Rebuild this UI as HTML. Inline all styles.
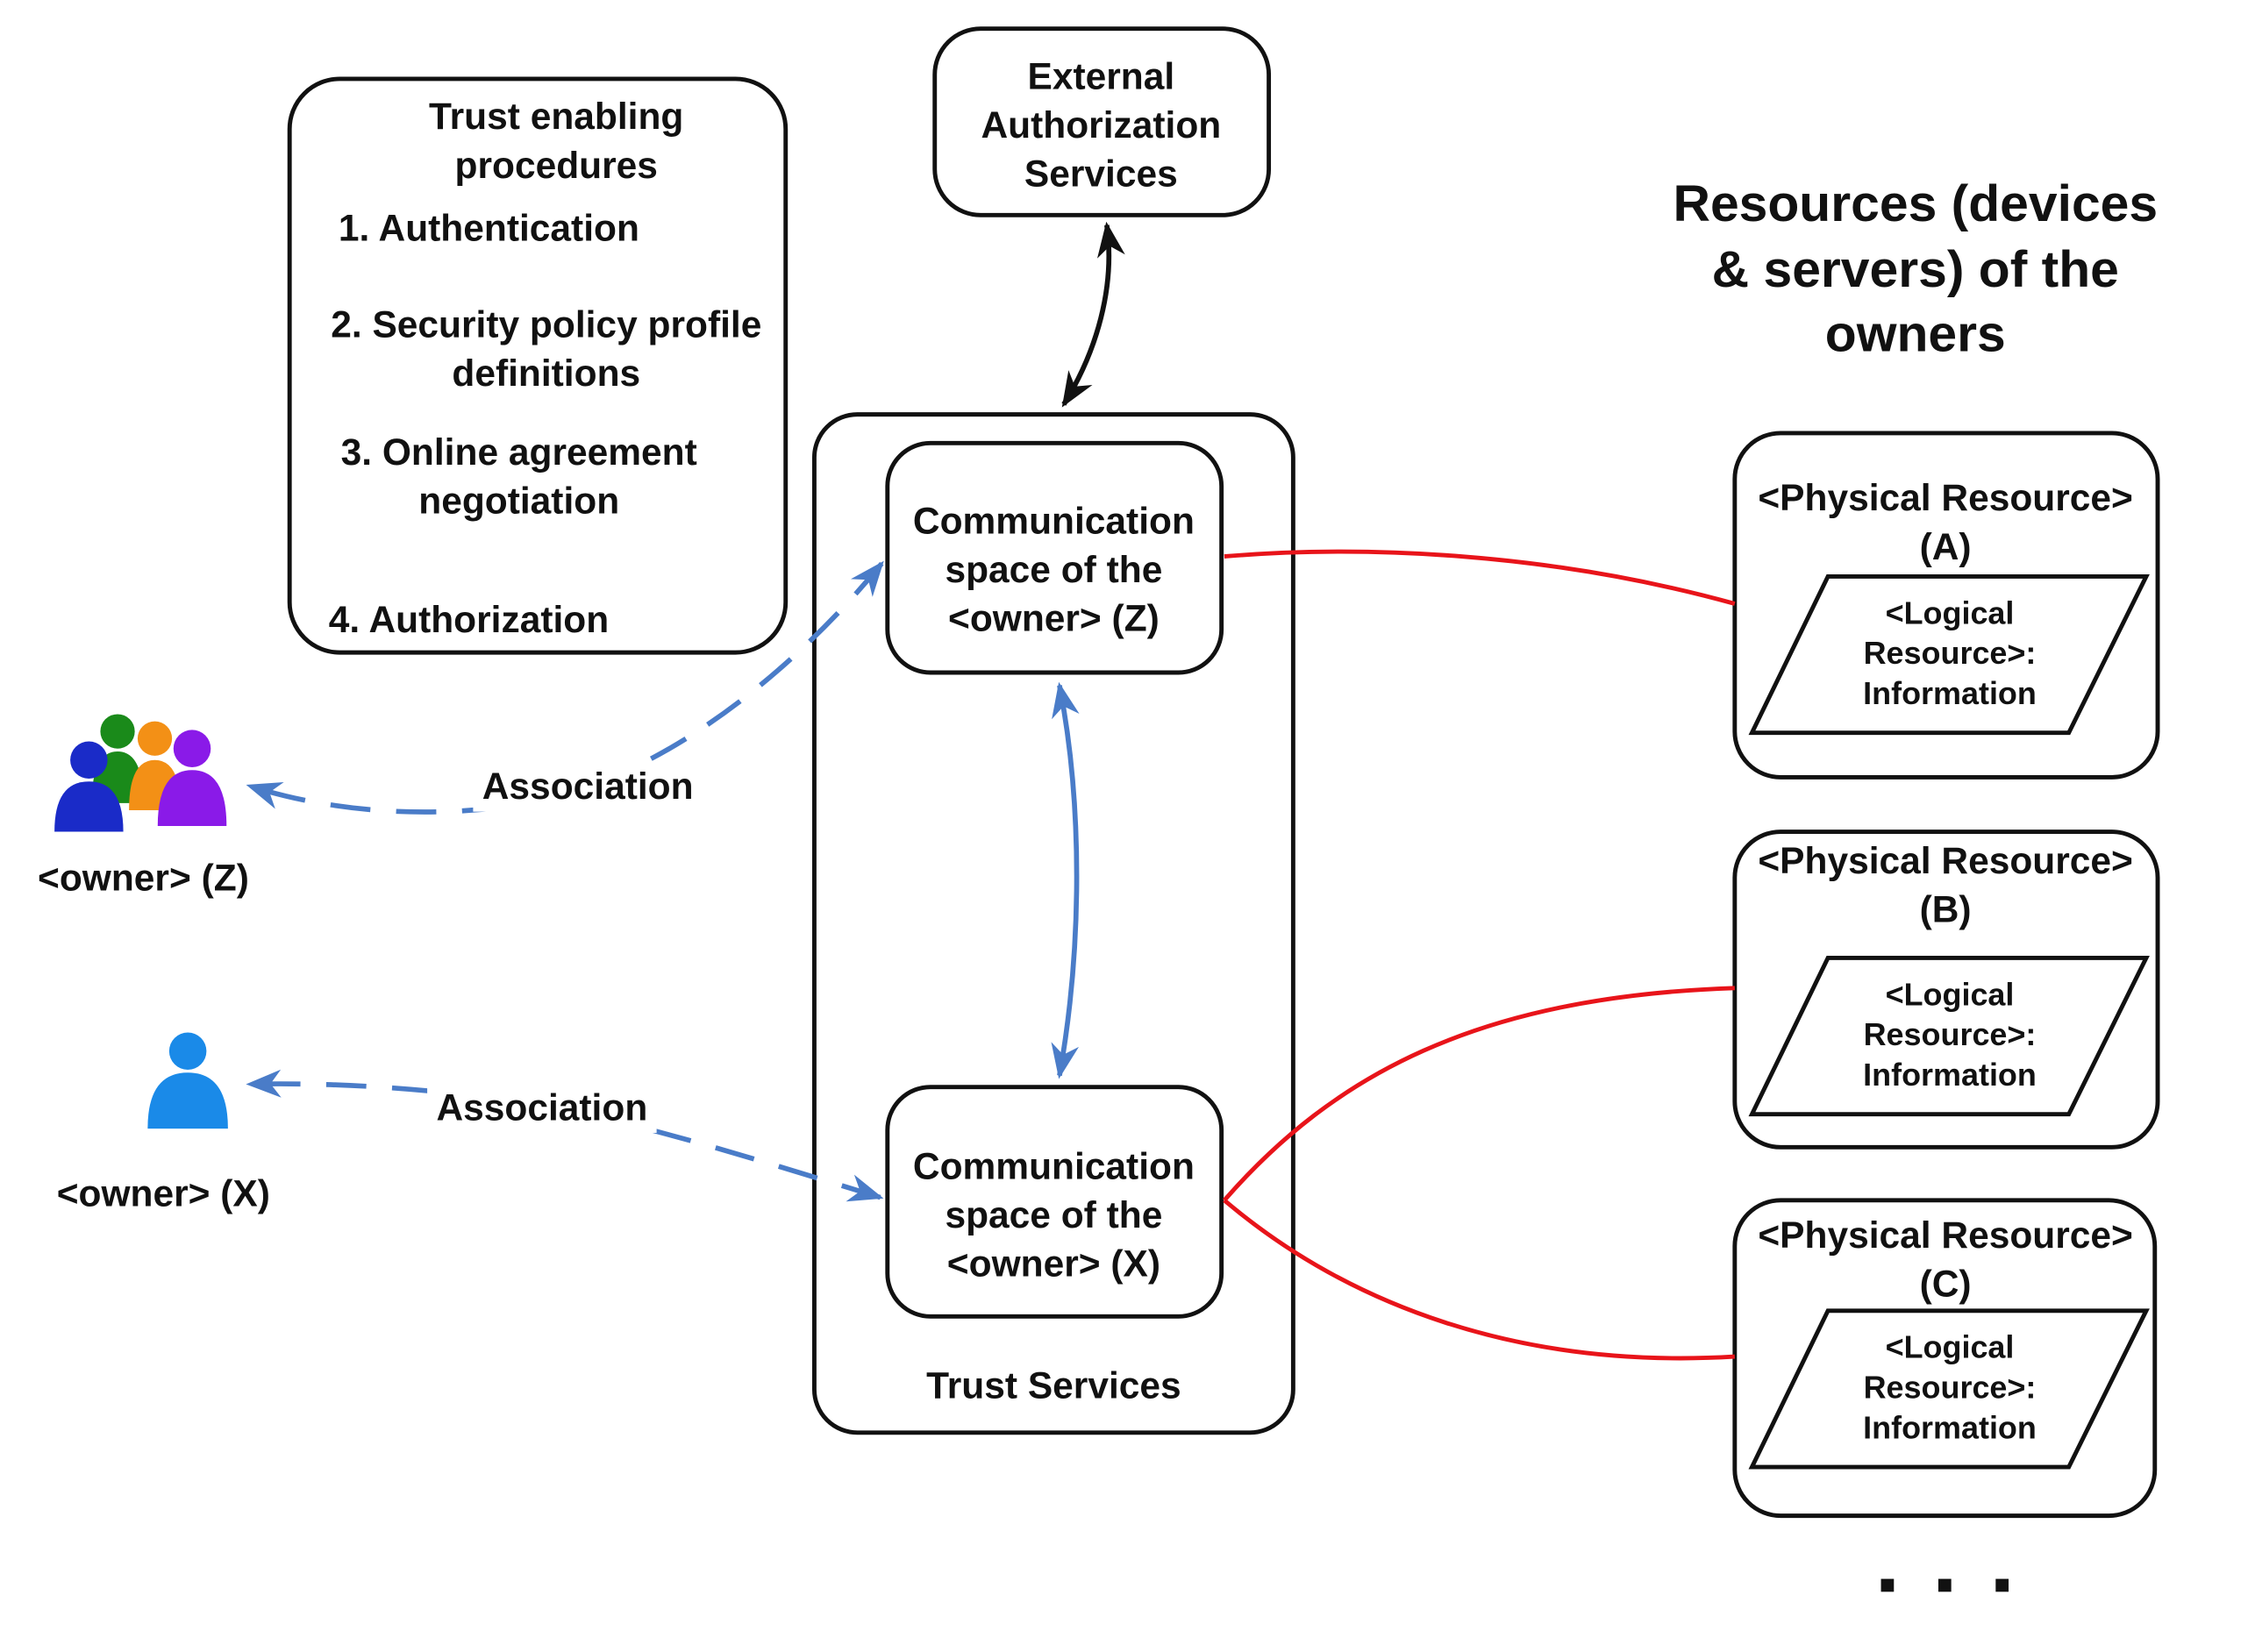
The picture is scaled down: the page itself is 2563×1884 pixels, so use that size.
<!DOCTYPE html>
<html><head><meta charset="utf-8"><style>
html,body{margin:0;padding:0;background:#fff;}
svg{display:block;}
text{font-family:"Liberation Sans",sans-serif;font-weight:bold;fill:#111;}
</style></head><body>
<svg width="2563" height="1884" viewBox="0 0 1568 1152" preserveAspectRatio="none" xmlns="http://www.w3.org/2000/svg">
<defs>
<marker id="ab" viewBox="0 0 10 10" refX="9" refY="5" markerWidth="7" markerHeight="7" orient="auto-start-reverse"><path d="M0,1 L10,5 L0,9 L3,5z" fill="#4a7cc8"/></marker>
<marker id="ak" viewBox="0 0 10 10" refX="9" refY="5" markerWidth="7" markerHeight="7" orient="auto-start-reverse"><path d="M0,1 L10,5 L0,9 L3,5z" fill="#111"/></marker>
</defs>
<g fill="none" stroke="#111" stroke-width="3">
<rect x="202" y="55" width="346" height="400" rx="35"/>
<rect x="652" y="20" width="233" height="130" rx="32"/>
<rect x="568" y="289" width="334" height="710" rx="30"/>
<rect x="619" y="309" width="233" height="160" rx="30"/>
<rect x="619" y="758" width="233" height="160" rx="30"/>
<rect x="1210" y="302" width="295" height="240" rx="32"/>
<rect x="1210" y="580" width="295" height="220" rx="32"/>
<rect x="1210" y="837" width="293" height="220" rx="32"/>
<polygon points="1275,402 1497,402 1443,511 1222,511"/>
<polygon points="1275,668 1497,668 1443,777 1222,777"/>
<polygon points="1275,914 1497,914 1443,1023 1222,1023"/>
</g>
<path d="M772,157 C778,200 765,245 742,282" fill="none" stroke="#111" stroke-width="3.5" marker-start="url(#ak)" marker-end="url(#ak)"/>
<path d="M739,478 C755,560 755,660 739,750" fill="none" stroke="#4a7cc8" stroke-width="3.5" marker-start="url(#ab)" marker-end="url(#ab)"/>
<path d="M615,393 C560,460 470,540 370,560 C300,572 230,566 174,548" fill="none" stroke="#4a7cc8" stroke-width="3.5" stroke-dasharray="28,18" marker-start="url(#ab)" marker-end="url(#ab)"/>
<path d="M614,835 C500,800 420,775 340,765 C280,758 230,755 174,756" fill="none" stroke="#4a7cc8" stroke-width="3.5" stroke-dasharray="28,18" marker-start="url(#ab)" marker-end="url(#ab)"/>
<g fill="none" stroke="#e8141a" stroke-width="3">
<path d="M854,388 C950,380 1080,385 1210,421"/>
<path d="M854,837 C930,750 1030,695 1210,689"/>
<path d="M854,837 C940,910 1060,955 1210,946"/>
</g>
<rect x="330" y="532" width="160" height="34" fill="#fff"/>
<rect x="298" y="756" width="160" height="34" fill="#fff"/>
<g>
<circle cx="82" cy="510" r="12" fill="#1a8a1a"/><path d="M64,560 Q64,524 82,524 Q100,524 100,560z" fill="#1a8a1a"/>
<circle cx="108" cy="515" r="12" fill="#f39016"/><path d="M90,565 Q90,530 108,530 Q126,530 126,565z" fill="#f39016"/>
<circle cx="62" cy="530" r="13" fill="#1a2bc8"/><path d="M38,580 Q38,545 62,545 Q86,545 86,580z" fill="#1a2bc8"/>
<circle cx="134" cy="522" r="13" fill="#8a1ae8"/><path d="M110,576 Q110,537 134,537 Q158,537 158,576z" fill="#8a1ae8"/>
<circle cx="131" cy="733" r="13" fill="#1a8ae8"/><path d="M103,787 Q103,748 131,748 Q159,748 159,787z" fill="#1a8ae8"/>
</g>
<g font-size="26" text-anchor="middle">
<text x="388" y="90">Trust enabling</text>
<text x="388" y="124">procedures</text>
<text x="341" y="168">1. Authentication</text>
<text x="381" y="235">2. Security policy profile</text>
<text x="381" y="269">definitions</text>
<text x="362" y="324">3. Online agreement</text>
<text x="362" y="358">negotiation</text>
<text x="327" y="441">4. Authorization</text>
<text x="768" y="62">External</text>
<text x="768" y="96">Authorization</text>
<text x="768" y="130">Services</text>
<text x="735" y="372">Communication</text>
<text x="735" y="406">space of the</text>
<text x="735" y="440">&lt;owner&gt; (Z)</text>
<text x="735" y="822">Communication</text>
<text x="735" y="856">space of the</text>
<text x="735" y="890">&lt;owner&gt; (X)</text>
<text x="735" y="975">Trust Services</text>
<text x="410" y="557">Association</text>
<text x="378" y="781">Association</text>
<text x="100" y="621">&lt;owner&gt; (Z)</text>
<text x="114" y="841">&lt;owner&gt; (X)</text>
<text x="1357" y="356">&lt;Physical Resource&gt;</text>
<text x="1357" y="390">(A)</text>
<text x="1357" y="609">&lt;Physical Resource&gt;</text>
<text x="1357" y="643">(B)</text>
<text x="1357" y="870">&lt;Physical Resource&gt;</text>
<text x="1357" y="904">(C)</text>
</g>
<g font-size="22" text-anchor="middle">
<text x="1360" y="435">&lt;Logical</text><text x="1360" y="463">Resource&gt;:</text><text x="1360" y="491">Information</text>
<text x="1360" y="701">&lt;Logical</text><text x="1360" y="729">Resource&gt;:</text><text x="1360" y="757">Information</text>
<text x="1360" y="947">&lt;Logical</text><text x="1360" y="975">Resource&gt;:</text><text x="1360" y="1003">Information</text>
</g>
<g font-size="36" text-anchor="middle">
<text x="1336" y="154">Resources (devices</text>
<text x="1336" y="200">&amp; servers) of the</text>
<text x="1336" y="245">owners</text>
</g>
<rect x="1312" y="1101" width="9" height="9" fill="#111"/>
<rect x="1352" y="1101" width="9" height="9" fill="#111"/>
<rect x="1392" y="1101" width="9" height="9" fill="#111"/>
</svg>
</body></html>
